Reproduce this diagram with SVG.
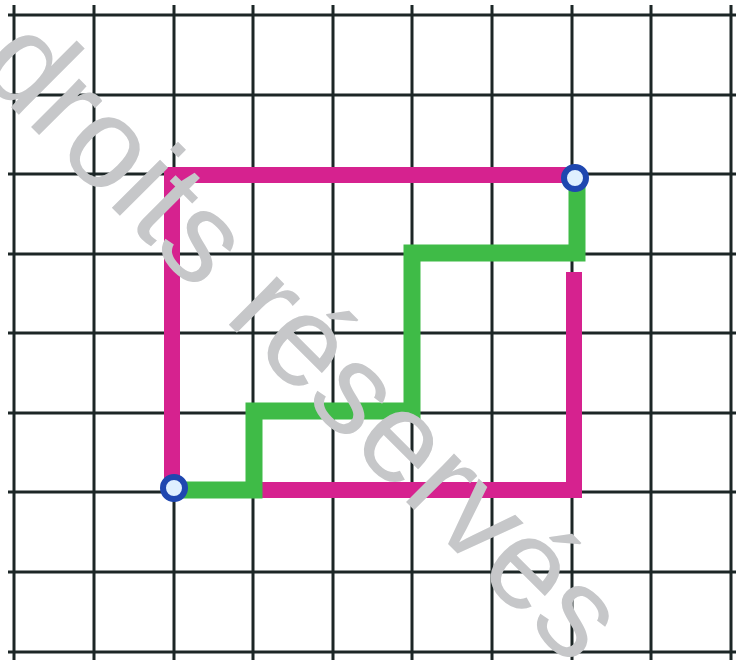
<svg xmlns="http://www.w3.org/2000/svg" width="736" height="664" viewBox="0 0 736 664">
<style>
.grid line{stroke:#1c2626;stroke-width:3}
.mag{fill:none;stroke:#d6228f;stroke-width:16;stroke-linejoin:miter;stroke-linecap:butt}
.grn{fill:none;stroke:#3fbb47;stroke-width:17;stroke-linejoin:miter;stroke-linecap:butt}
.dot{fill:#dff0ff;stroke:#1f47b0;stroke-width:6}
.wm{font-family:"Liberation Sans",Arial,sans-serif;font-size:129px;fill:#c6c7c9}
</style>
<rect width="736" height="664" fill="#ffffff"/>
<g id="grid" class="grid">
<line x1="14" y1="5" x2="14" y2="660"/>
<line x1="94" y1="5" x2="94" y2="660"/>
<line x1="174" y1="5" x2="174" y2="660"/>
<line x1="253" y1="5" x2="253" y2="660"/>
<line x1="333" y1="5" x2="333" y2="660"/>
<line x1="412" y1="5" x2="412" y2="660"/>
<line x1="492" y1="5" x2="492" y2="660"/>
<line x1="572" y1="5" x2="572" y2="660"/>
<line x1="651" y1="5" x2="651" y2="660"/>
<line x1="731" y1="5" x2="731" y2="660"/>
<line x1="8" y1="15" x2="736" y2="15"/>
<line x1="8" y1="95" x2="736" y2="95"/>
<line x1="8" y1="174" x2="736" y2="174"/>
<line x1="8" y1="254" x2="736" y2="254"/>
<line x1="8" y1="333" x2="736" y2="333"/>
<line x1="8" y1="413" x2="736" y2="413"/>
<line x1="8" y1="492" x2="736" y2="492"/>
<line x1="8" y1="572" x2="736" y2="572"/>
<line x1="8" y1="652" x2="736" y2="652"/>
</g>
<g id="connectors">
<path id="magenta-1" class="mag" d="M575,175 H172 V488"/>
<path id="magenta-2" class="mag" stroke-linecap="round" d="M574,272 V490 H262"/>
<path id="green-path" class="grn" d="M173,490 H254 V411 H412 V253 H577 V178"/>
</g>
<g id="point-a"><circle class="dot" cx="174" cy="488" r="11"/></g>
<g id="point-b"><circle class="dot" cx="575" cy="178" r="11"/></g>
<g id="watermark">
<text class="wm" transform="translate(-26,70) rotate(45)">droits réservés</text>
</g>
</svg>
